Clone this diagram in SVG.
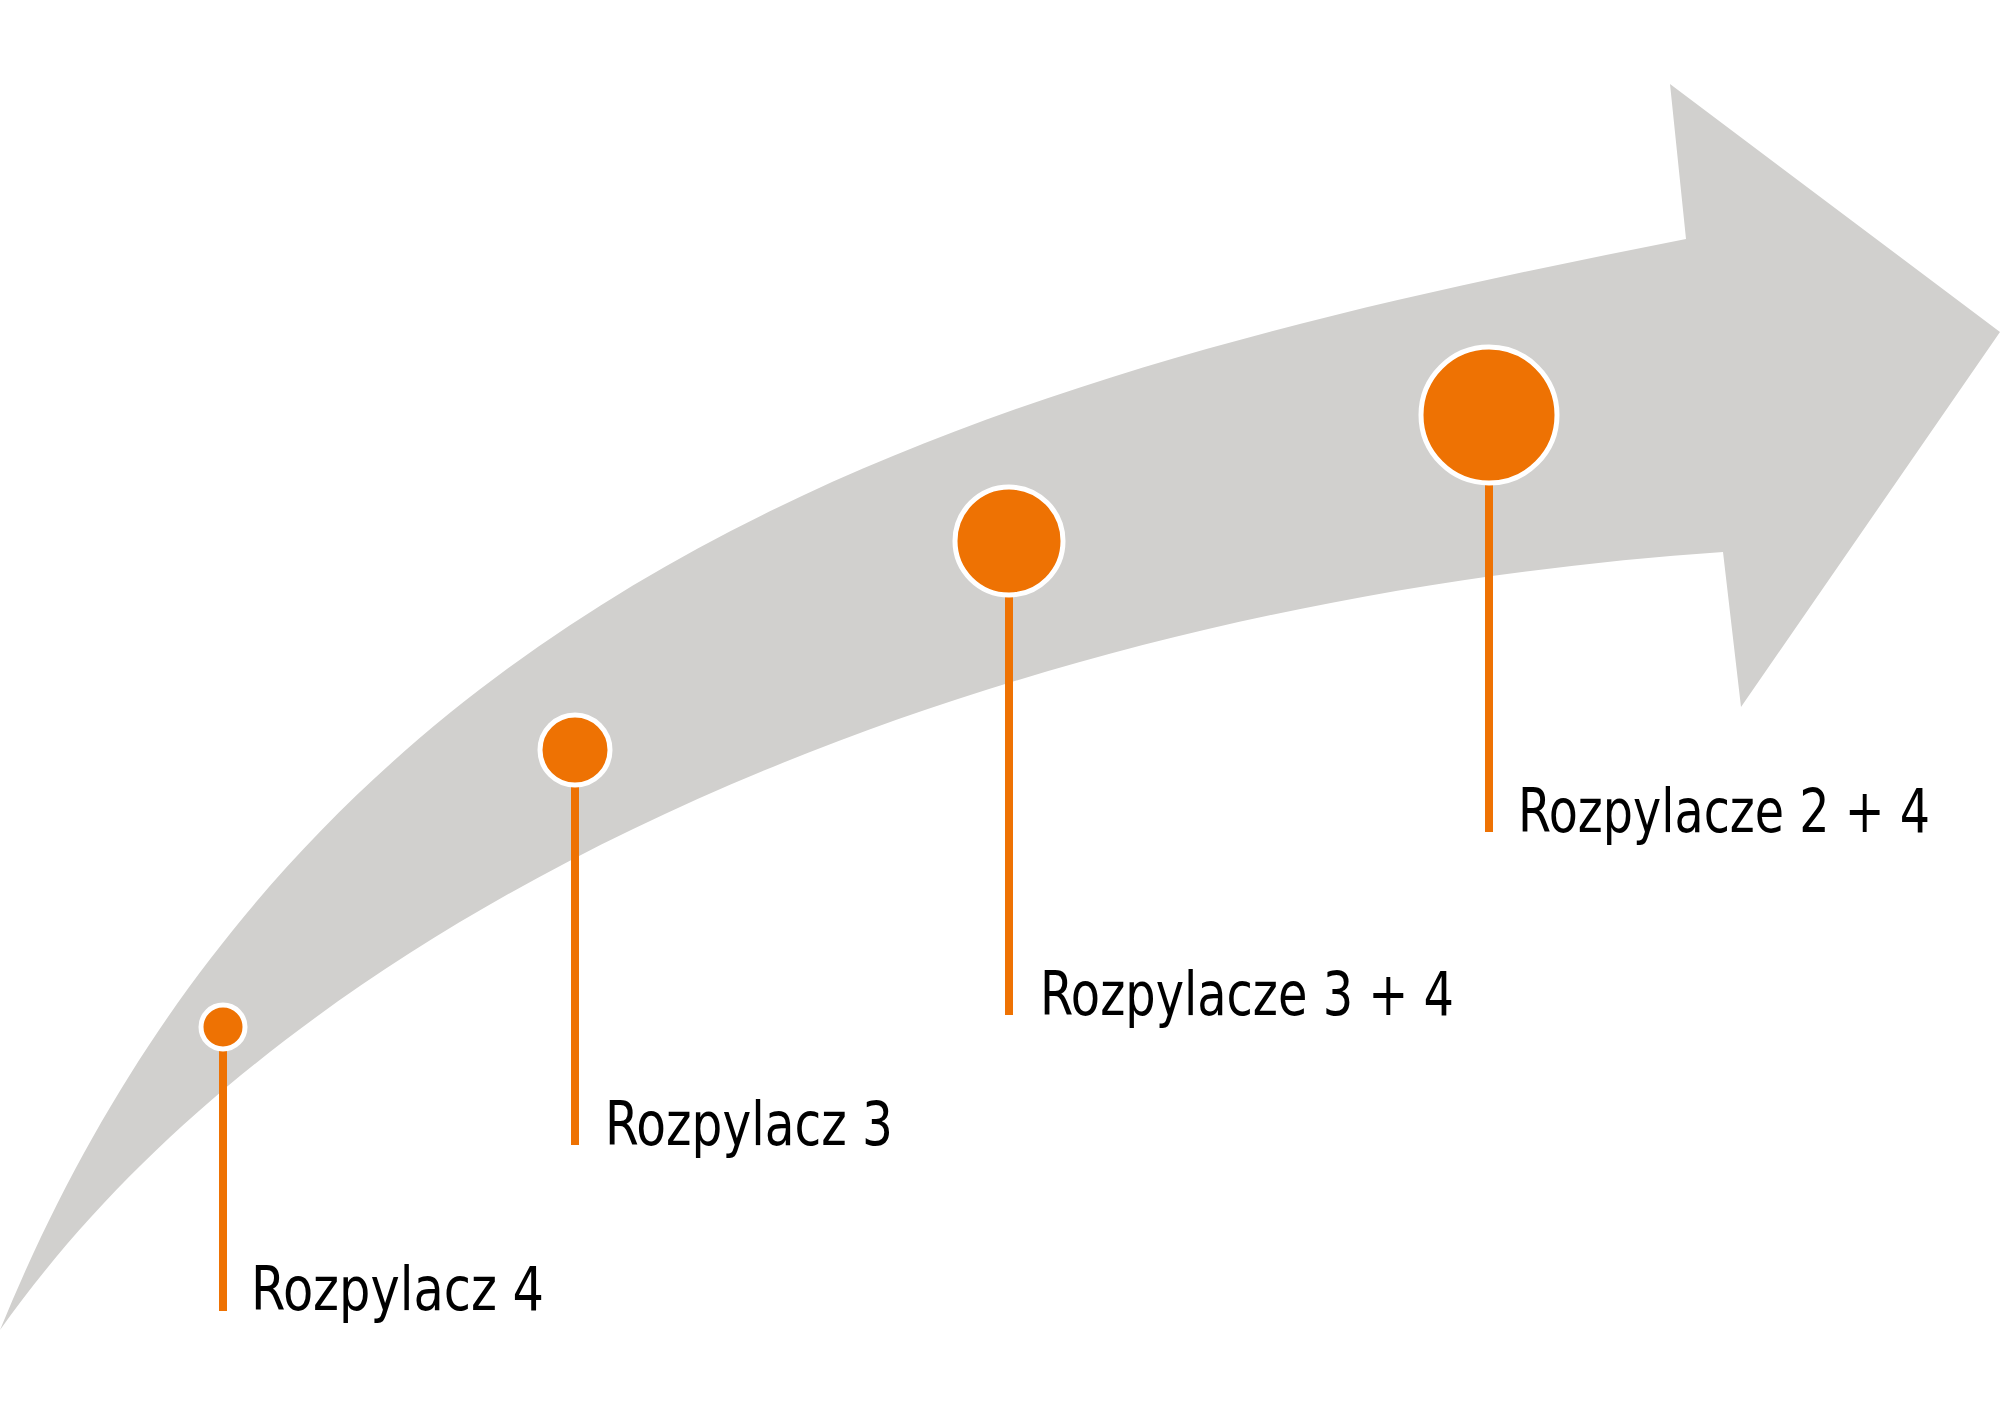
<svg xmlns="http://www.w3.org/2000/svg" width="2000" height="1415" viewBox="0 0 2000 1415">
<style>
.stem{stroke:#ee7203;stroke-width:8;fill:none}
.dot{fill:#ee7203;stroke:#fff;stroke-width:5}
.lbl{font-family:"DejaVu Sans Condensed","Liberation Sans Narrow","Liberation Sans",sans-serif;font-size:60px;fill:#000}
</style>
<rect width="2000" height="1415" fill="#fff"/>
<g id="arrow"><path d="M0,1330 C319,548 1020,370 1686,239 L1670,84 L2000,332 L1741,707 L1723,552 C1020,600 319,880 0,1330 Z" fill="#d1d0ce"/></g>
<g id="connectors">
<line class="stem" x1="223" y1="1027" x2="223" y2="1311"/>
<line class="stem" x1="575" y1="750" x2="575" y2="1145"/>
<line class="stem" x1="1009" y1="541" x2="1009" y2="1015"/>
<line class="stem" x1="1489" y1="415" x2="1489" y2="832"/>
</g>
<g id="n1"><circle class="dot" cx="223" cy="1027" r="22"/><text class="lbl" x="251" y="1310" textLength="293" lengthAdjust="spacingAndGlyphs">Rozpylacz 4</text></g>
<g id="n2"><circle class="dot" cx="575" cy="750" r="35"/><text class="lbl" x="605" y="1145" textLength="288" lengthAdjust="spacingAndGlyphs">Rozpylacz 3</text></g>
<g id="n3"><circle class="dot" cx="1009" cy="541" r="54"/><text class="lbl" x="1040" y="1015" textLength="414" lengthAdjust="spacingAndGlyphs">Rozpylacze 3 + 4</text></g>
<g id="n4"><circle class="dot" cx="1489" cy="415" r="68"/><text class="lbl" x="1518" y="832" textLength="412" lengthAdjust="spacingAndGlyphs">Rozpylacze 2 + 4</text></g>
</svg>
